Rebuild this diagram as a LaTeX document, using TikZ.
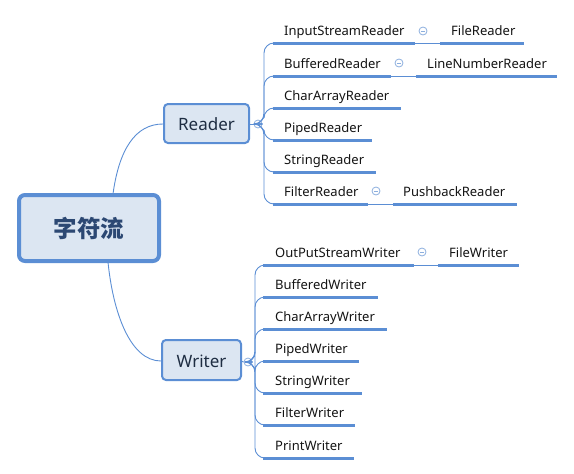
\documentclass[tikz,border=0pt]{standalone}
\usepackage{fontspec}
\setmainfont{Noto Sans}
\newfontfamily\cjk{Noto Sans CJK SC}
\definecolor{lineblue}{RGB}{91,142,212}
\definecolor{boxfill}{RGB}{220,230,242}
\definecolor{circblue}{RGB}{140,175,222}
\definecolor{maintext}{RGB}{44,72,115}
\definecolor{subtext}{RGB}{30,45,66}
\begin{document}
\begin{tikzpicture}[x=1pt,y=-1pt,
  lbl/.style={anchor=base west,inner sep=0pt,font=\fontsize{13}{15}\selectfont,text=black!92},
  uline/.style={draw=lineblue,line width=3pt},
  thin/.style={draw=lineblue,line width=0.9pt},
  branch/.style={draw=lineblue,line width=0.9pt,rounded corners=10pt},
  circ/.style={circle,draw=circblue,fill=white,line width=0.8pt,minimum size=8pt,inner sep=0pt,
    path picture={\draw[circblue,line width=0.8pt] ([xshift=-2.2pt]path picture bounding box.center) -- ([xshift=2.2pt]path picture bounding box.center);}},
  box/.style={draw=lineblue,fill=boxfill,rounded corners=4pt}]
\useasboundingbox (0,0) rectangle (574,474);

% central node
\draw[box,line width=4pt,rounded corners=6pt] (19,195) rectangle (159,261);
\node[font=\cjk\bfseries\fontsize{23.5}{26}\selectfont,text=maintext] (root) at (89,228) {字符流};
\coordinate (rootT) at (113,194);
\coordinate (rootB) at (108,262);

% Reader
\draw[box,line width=2pt] (164,104) rectangle (249,143);
\node[font=\fontsize{17}{19}\selectfont,text=subtext] (reader) at (206.5,124) {Reader};
\coordinate (readerW) at (163,124);
\node[circ] (rc) at (258,124) {};

% Writer
\draw[box,line width=2pt] (162,340) rectangle (241,380);
\node[font=\fontsize{17}{19}\selectfont,text=subtext] (writer) at (201.5,361) {Writer};
\coordinate (writerW) at (161,361);
\node[circ] (wc) at (248,362) {};

\draw[thin] (rootT) .. controls (119,150) and (135,124) .. (readerW);
\draw[thin] (rootB) .. controls (113,312) and (130,361) .. (writerW);
\draw[thin] (249,124) -- (rc.west);
\draw[thin] (241,361) -- (wc.west);

% Reader children
\foreach \nm/\txt/\y/\e in {isr/InputStreamReader/43/415, br/BufferedReader/76/391, car/CharArrayReader/108/401, pr/PipedReader/140/372, sr/StringReader/172/376, fr/FilterReader/204/368}{
  \coordinate (\nm-s) at (273,\y);
  \coordinate (\nm-e) at (\e,\y);
  \node[lbl] (\nm) at (284,\y-8) {\txt};
  \draw[uline] (\nm-s) -- (\nm-e);
  \draw[branch] (rc.east) -- (264,124) -- (264,\y) -- (\nm-s);
}
% Writer children
\foreach \nm/\txt/\y/\e in {osw/OutPutStreamWriter/265/414, bw/BufferedWriter/297/378, caw/CharArrayWriter/329/387, pw/PipedWriter/361/359, sw/StringWriter/393/362, fw/FilterWriter/425/355, prw/PrintWriter/458/354}{
  \coordinate (\nm-s) at (263,\y);
  \coordinate (\nm-e) at (\e,\y);
  \node[lbl] (\nm) at (275,\y-8) {\txt};
  \draw[uline] (\nm-s) -- (\nm-e);
  \draw[branch] (wc.east) -- (255,362) -- (255,\y) -- (\nm-s);
}

% grandchildren
\node[circ] (c1) at (423,31) {};
\coordinate (fir-s) at (440,43); \coordinate (fir-e) at (524,43);
\node[lbl] (fir) at (451,35) {FileReader};
\draw[thin] (isr-e) -- (fir-s);
\draw[uline] (fir-s) -- (fir-e);

\node[circ] (c2) at (399,63) {};
\coordinate (lnr-s) at (416,76); \coordinate (lnr-e) at (557,76);
\node[lbl] (lnr) at (427,68) {LineNumberReader};
\draw[thin] (br-e) -- (lnr-s);
\draw[uline] (lnr-s) -- (lnr-e);

\node[circ] (c3) at (376,191) {};
\coordinate (pbr-s) at (393,204); \coordinate (pbr-e) at (517,204);
\node[lbl] (pbr) at (403,196) {PushbackReader};
\draw[thin] (fr-e) -- (pbr-s);
\draw[uline] (pbr-s) -- (pbr-e);

\node[circ] (c4) at (422,252) {};
\coordinate (fiw-s) at (438,265); \coordinate (fiw-e) at (519,265);
\node[lbl] (fiw) at (449,257) {FileWriter};
\draw[thin] (osw-e) -- (fiw-s);
\draw[uline] (fiw-s) -- (fiw-e);
\end{tikzpicture}
\end{document}
